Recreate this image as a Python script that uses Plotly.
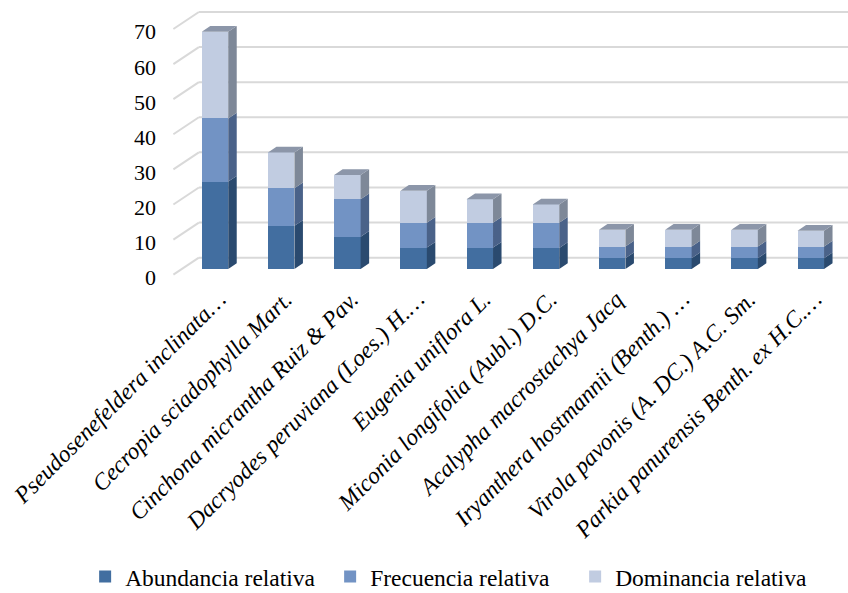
import plotly.graph_objects as go

# Species (category labels, truncated as in the source workbook)
species = [
    "Pseudosenefeldera inclinata…",
    "Cecropia sciadophylla Mart.",
    "Cinchona micrantha Ruiz & Pav.",
    "Dacryodes peruviana (Loes.) H.…",
    "Eugenia uniflora L.",
    "Miconia longifolia (Aubl.) D.C.",
    "Acalypha macrostachya Jacq",
    "Iryanthera hostmannii (Benth.) …",
    "Virola pavonis (A. DC.) A.C. Sm.",
    "Parkia panurensis Benth. ex H.C.…",
]

# Relative values (%)
abundancia = [24.9, 12.3, 9.2, 6.1, 6.1, 6.0, 3.1, 3.1, 3.1, 3.1]
frecuencia = [18.0, 10.7, 10.7, 7.1, 7.1, 7.2, 3.3, 3.3, 3.3, 3.3]
dominancia = [24.7, 10.2, 6.9, 9.1, 6.7, 5.2, 4.8, 4.8, 4.8, 4.5]

series_names = ["Abundancia relativa", "Frecuencia relativa", "Dominancia relativa"]
y_ticks = [0, 10, 20, 30, 40, 50, 60, 70]

# Face colours: front, side, top
front_colors = ["#426EA0", "#7293C4", "#C1CCE1"]
side_colors = ["#2A4A6F", "#4A6289", "#7E8898"]
top_color = "#8C96A9"

FONT = "Liberation Serif, Times New Roman, serif"

# Pseudo-3D geometry (data units): full depth of the chart box
DEPTH_X = 0.385   # in category units
DEPTH_Y = 4.85    # in value units
BAR_W = 0.40
bar_dx = DEPTH_X / 3
bar_dy = DEPTH_Y / 3

X_RANGE = [-0.876, 9.562]
Y_RANGE = [-3.13, 76.64]

n = len(species)
xs = list(range(n))
values = [abundancia, frecuencia, dominancia]

fig = go.Figure()

# Front faces as stacked bars
for name, vals, col in zip(series_names, values, front_colors):
    fig.add_trace(go.Bar(
        x=xs, y=vals, name=name, width=BAR_W,
        marker=dict(color=col, line=dict(width=0)),
    ))

# Side faces of every stacked segment
bases = [0.0] * n
for k, vals in enumerate(values):
    px, py = [], []
    for i in range(n):
        b = bases[i]
        t = b + vals[i]
        xr = xs[i] + BAR_W / 2
        px += [xr, xr, xr + bar_dx, xr + bar_dx, xr, None]
        py += [b, t, t + bar_dy, b + bar_dy, b, None]
        bases[i] = t
    fig.add_trace(go.Scatter(
        x=px, y=py, mode="lines", fill="toself",
        fillcolor=side_colors[k], line=dict(width=0, color=side_colors[k]),
        hoverinfo="skip", showlegend=False,
    ))

# Top faces of the full stacks
tx, ty = [], []
for i in range(n):
    t = bases[i]
    xl = xs[i] - BAR_W / 2
    xr = xs[i] + BAR_W / 2
    tx += [xl, xr, xr + bar_dx, xl + bar_dx, xl, None]
    ty += [t, t, t + bar_dy, t + bar_dy, t, None]
fig.add_trace(go.Scatter(
    x=tx, y=ty, mode="lines", fill="toself",
    fillcolor=top_color, line=dict(width=0, color=top_color),
    hoverinfo="skip", showlegend=False,
))

# Axis carrying the value labels at the front edge of the left wall
fig.add_trace(go.Scatter(x=[None], y=[None], yaxis="y2",
                         showlegend=False, hoverinfo="skip"))

# Back-wall gridlines and left-wall diagonals
grid_col = "#D9D9D9"
shapes = []
wall_left = -0.5
for v in y_ticks:
    back_y = v + 2 * DEPTH_Y / 3
    back_x = wall_left + 2 * DEPTH_X / 3
    shapes.append(dict(type="line", xref="x", yref="y", layer="below",
                       x0=back_x, x1=X_RANGE[1] + 1, y0=back_y, y1=back_y,
                       line=dict(color=grid_col, width=2)))
    shapes.append(dict(type="line", xref="x", yref="y", layer="below",
                       x0=wall_left - DEPTH_X / 3, y0=v - DEPTH_Y / 3,
                       x1=back_x, y1=back_y,
                       line=dict(color=grid_col, width=2)))

fig.update_layout(
    width=848, height=593,
    margin=dict(l=157, r=0, t=0, b=313, autoexpand=False),
    paper_bgcolor="white", plot_bgcolor="white",
    barmode="stack",
    shapes=shapes,
    font=dict(family=FONT, size=22, color="#000000"),
    xaxis=dict(
        range=X_RANGE, tickvals=xs, ticktext=species, tickangle=-45,
        tickfont=dict(family=FONT, size=23.5, style="italic", color="#000000"),
        showgrid=False, zeroline=False, showline=False, ticks="",
        ticklabelshift=4, automargin=False,
    ),
    yaxis=dict(range=Y_RANGE, visible=False, showgrid=False, zeroline=False,
               automargin=False),
    yaxis2=dict(
        range=[Y_RANGE[0] + DEPTH_Y / 3 + 0.8, Y_RANGE[1] + DEPTH_Y / 3 + 0.8],
        overlaying="y", side="left", tickvals=y_ticks,
        showgrid=False, zeroline=False, showline=False, ticks="",
        tickfont=dict(family=FONT, size=22, color="#000000"),
        automargin=False,
    ),
    legend=dict(
        orientation="h", x=-0.104, xanchor="left", y=-1.060, yanchor="middle",
        font=dict(family=FONT, size=23.5, color="#000000"),
        traceorder="normal", entrywidth=200, entrywidthmode="pixels",
    ),
    showlegend=True,
)

fig.write_html("out.html")
